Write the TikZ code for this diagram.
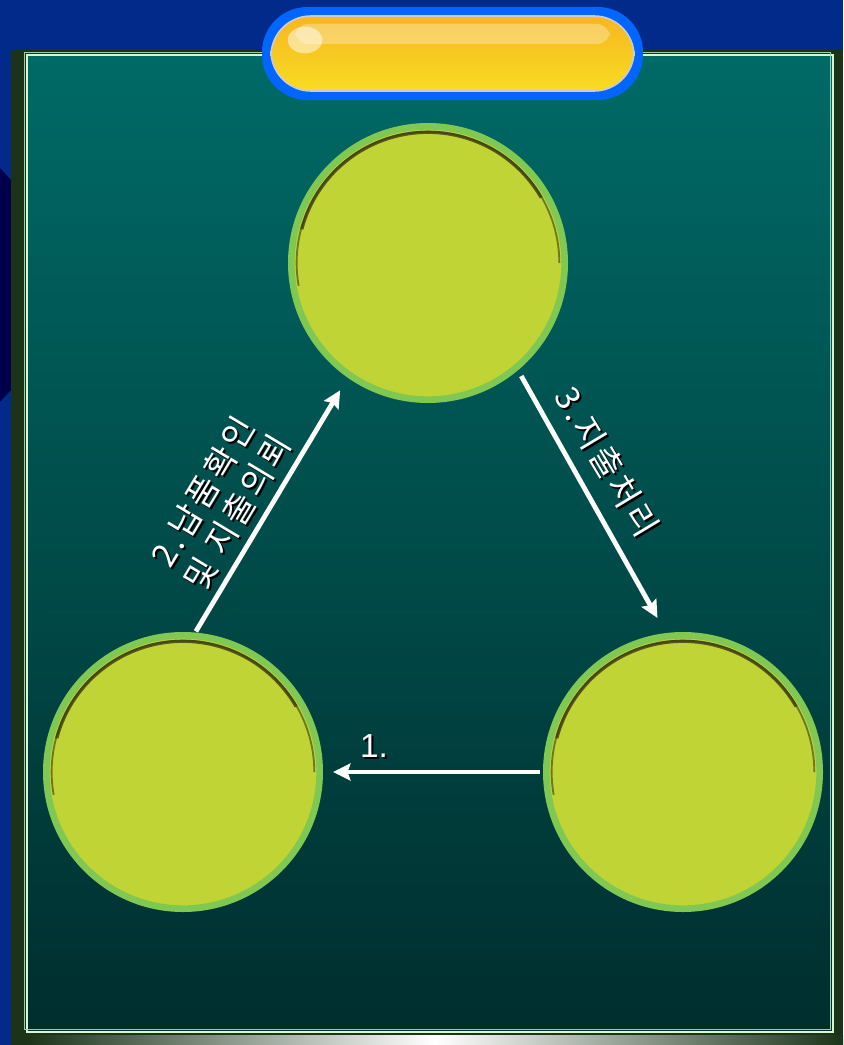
\documentclass[tikz,border=0pt]{standalone}
\usepackage{fontspec}
\newfontfamily\kr[LetterSpace=10]{Noto Sans CJK KR}
\setmainfont{Liberation Sans}
\usetikzlibrary{arrows.meta,shapes.geometric}
\definecolor{navy}{HTML}{022A8A}
\definecolor{deepnavy}{HTML}{00004A}
\definecolor{shadowgreen}{HTML}{1B3319}
\definecolor{panelTop}{HTML}{006A66}
\definecolor{panelBot}{HTML}{002E2E}
\definecolor{rimline}{HTML}{D8F8D0}
\definecolor{ballfill}{HTML}{C0D435}
\definecolor{ballring}{HTML}{80C852}
\definecolor{balldark}{HTML}{3A3A12}
\definecolor{pillblue}{HTML}{0066FF}
\definecolor{pilltop}{HTML}{F6B622}
\definecolor{pillbot}{HTML}{F8DC22}

\begin{document}
\begin{tikzpicture}[x=0.75pt,y=-0.75pt,
 ball/.style={circle,draw=ballring,line width=5pt,fill=ballfill,minimum size=205pt,inner sep=0pt},
 flow/.style={draw=white,line width=3.6pt,-{Stealth[length=13pt,width=12.5pt,inset=2pt]}},
 lbl/.style={text=white,font=\kr\fontsize{25}{30}\selectfont,align=center,inner sep=0pt},
 lblshadow/.style={lbl,text=black}]
\useasboundingbox (0,0) rectangle (843,1045);
% background and panel
\fill[navy] (0,0) rectangle (843,1045);
\fill[deepnavy] (0,168)--(11,180)--(11,390)--(0,402)--cycle;
\fill[shadowgreen] (11,50) rectangle (843,1045);
\shade[left color=shadowgreen,right color=shadowgreen,middle color=white] (27,1035) rectangle (843,1045);
\shade[top color=panelTop,bottom color=panelBot] (27,55) rectangle (833,1032);
\draw[rimline,line width=1.6pt] (27,55) rectangle (833,1032);
\draw[rimline!70!panelTop,line width=0.6pt] (24,52) rectangle (830,1029);
% title pill
\fill[pillblue,rounded corners=34pt] (262,7) rectangle (643,100);
\shade[top color=pilltop,bottom color=pillbot,draw=gray!40,line width=1.2pt,rounded corners=30pt] (271,16) rectangle (634,91);
\fill[white,opacity=0.3,rounded corners=10pt] (295,24) rectangle (610,44);
\fill[white,opacity=0.5] (305,40) ellipse[x radius=13pt,y radius=10pt];
% circles
\node[ball] (top) at (428,263) {};
\node[ball] (left) at (183,772) {};
\node[ball] (right) at (683,772) {};
\foreach \b in {top,left,right}{
 \draw[balldark,line width=1.4pt,opacity=0.6] ([shift={(190:98.5pt)}]\b.center) arc[start angle=190,end angle=0,radius=98.5pt];
 \draw[balldark,line width=2.4pt,opacity=0.8] ([shift={(165:98pt)}]\b.center) arc[start angle=165,end angle=30,radius=98pt];
}
% connectors
\draw[flow,shorten <=2pt,shorten >=7.5pt] (right.west) -- (left.east);
\draw[flow,shorten <=1pt,shorten >=11pt] (left.85) -- (top.235);
\draw[flow,shorten <=5pt,shorten >=13pt] (top.-50) -- (right.97);
% labels (black copy underneath for the drop shadow)
\node[lblshadow,font=\fontsize{25}{30}\selectfont] (lab1s) at (376,748) {1.};
\node[lbl,font=\fontsize{25}{30}\selectfont] (lab1) at ([shift={(-1.5pt,1.5pt)}]lab1s.center) {1.};
\node[lblshadow,rotate=59] (lab2s) at (222,504) {2.납품확인\\및 지출의뢰};
\node[lbl,rotate=59] (lab2) at ([shift={(-1.5pt,1.5pt)}]lab2s.center) {2.납품확인\\및 지출의뢰};
\node[lblshadow,rotate=-59] (lab3s) at (609,464) {3.지출처리};
\node[lbl,rotate=-59] (lab3) at ([shift={(-1.5pt,1.5pt)}]lab3s.center) {3.지출처리};
\end{tikzpicture}
\end{document}
